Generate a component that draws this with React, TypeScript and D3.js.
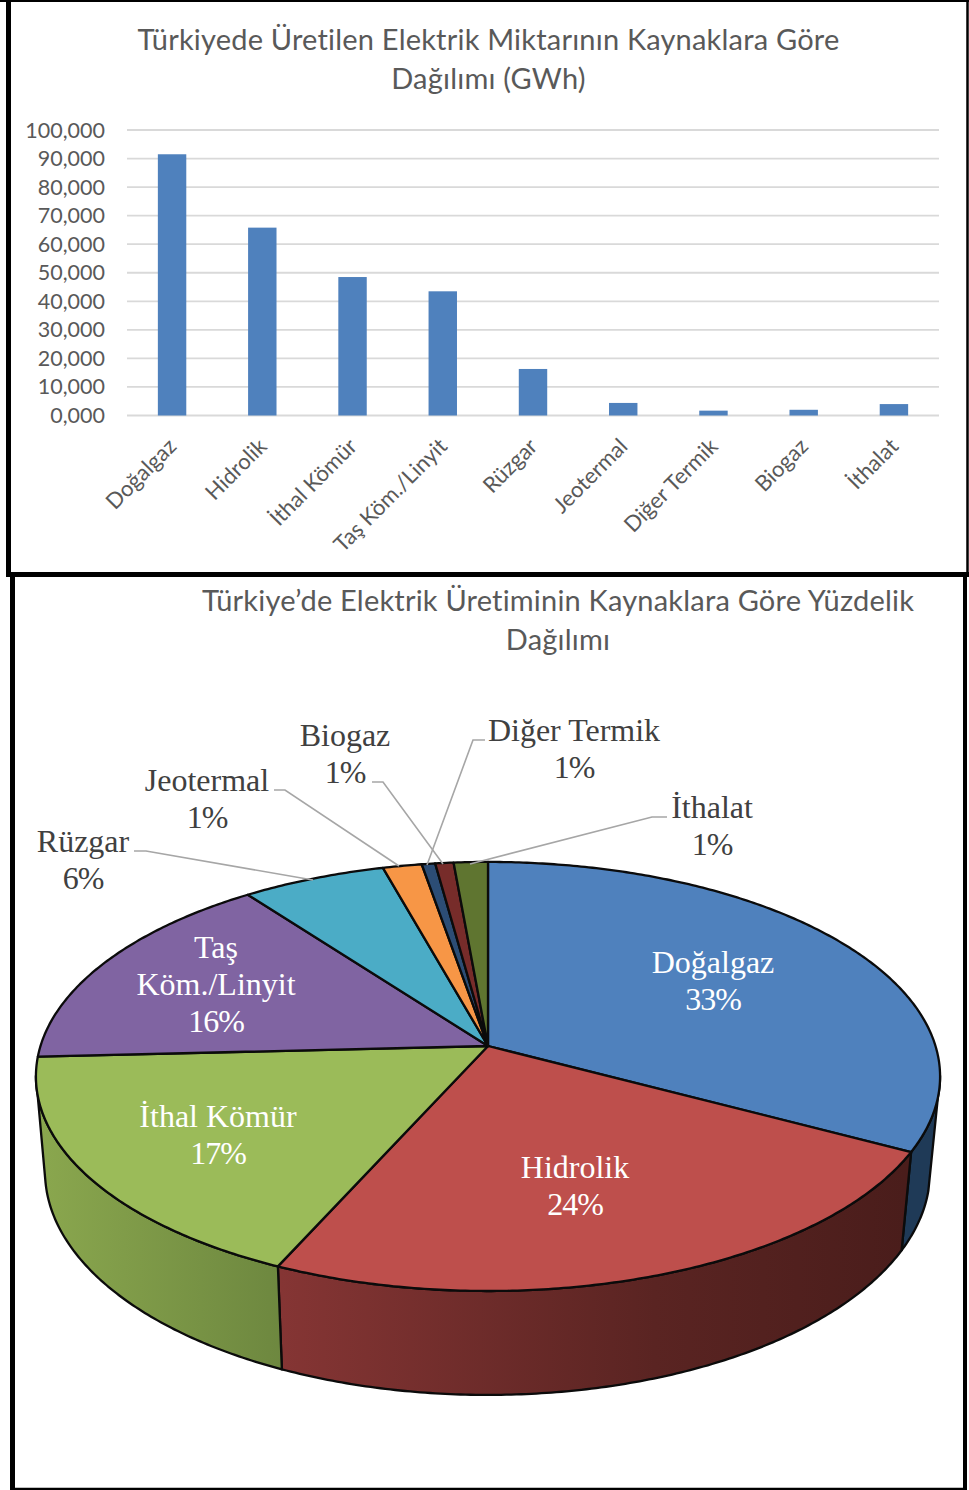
import React from "react";
import * as d3 from "d3";

const W = 969, H = 1490;
const categories = ["Doğalgaz", "Hidrolik", "İthal Kömür", "Taş Köm./Linyit", "Rüzgar", "Jeotermal", "Diğer Termik", "Biogaz", "İthalat"];
const barValues = [91500, 65800, 48500, 43500, 16300, 4400, 1700, 2000, 4000];
const yTicks = [0, 10000, 20000, 30000, 40000, 50000, 60000, 70000, 80000, 90000, 100000];
const yTickLabels = ["0,000", "10,000", "20,000", "30,000", "40,000", "50,000", "60,000", "70,000", "80,000", "90,000", "100,000"];
const pieNames = ["Doğalgaz", "Hidrolik", "İthal Kömür", "Taş Köm./Linyit", "Rüzgar", "Jeotermal", "Biogaz", "Diğer Termik", "İthalat"];
const pieShares = [32.8, 23.9, 17.5, 15.6, 5.9, 1.6, 0.55, 0.75, 1.4];
const pieColors = ["#4f81bd", "#be4f4c", "#9bbb59", "#8064a2", "#4bacc6", "#f79646", "#2c4d75", "#772c2a", "#5f7530"];
const title1 = ["Türkiyede Üretilen Elektrik Miktarının Kaynaklara Göre", "Dağılımı (GWh)"];
const title2 = ["Türkiye’de Elektrik Üretiminin Kaynaklara Göre Yüzdelik", "Dağılımı"];

const sans = "Lato, 'Open Sans', sans-serif";
const serif = "'Liberation Serif', serif";

const x = d3.scaleBand<string>().domain(categories).range([127, 939]).paddingInner(0.685).paddingOuter(0.342);
const y = d3.scaleLinear().domain([0, 100000]).range([415.5, 130]);

// perspective projection of the pie's disc
const K = -0.142;
const project = (t: number, cx: number, cy: number, bx: number, by: number): [number, number] => {
  const u = Math.sin(t), v = -Math.cos(t), w = 1 + K * v;
  return [cx + (bx * u) / w, cy + (by * v) / w];
};
const topP = (t: number) => project(t, 488, 1046, 447.5, 210.2);
const botP = (t: number) => project(t, 487.5, 1140, 438, 218.7);
const line = d3.line();
const arcPts = (a: number, b: number, f: (t: number) => [number, number]) => {
  const n = Math.max(2, Math.ceil(Math.abs(b - a) / 0.01));
  return d3.range(n + 1).map((i) => f(a + ((b - a) * i) / n));
};
const slices = d3.pie<number>().sort(null)(pieShares);
const rad = (d: number) => (d * Math.PI) / 180;

const outerLabels = [
  { lines: ["Rüzgar", "6%"], cx: 83, y: 852, leader: [[134, 851], [146, 851], [313, 880]] },
  { lines: ["Jeotermal", "1%"], cx: 207, y: 791, leader: [[274, 790], [285, 790], [399, 866]] },
  { lines: ["Biogaz", "1%"], cx: 345, y: 746, leader: [[372, 782], [383, 782], [443, 864]] },
  { lines: ["Diğer Termik", "1%"], cx: 574, y: 741, leader: [[485, 740], [473, 740], [427, 865]] },
  { lines: ["İthalat", "1%"], cx: 712, y: 818, leader: [[667, 817], [652, 817], [470, 864]] },
];
const innerLabels = [
  { lines: ["Doğalgaz", "33%"], cx: 713, y: 973 },
  { lines: ["Hidrolik", "24%"], cx: 575, y: 1178 },
  { lines: ["İthal Kömür", "17%"], cx: 218, y: 1127 },
  { lines: ["Taş", "Köm./Linyit", "16%"], cx: 216, y: 958 },
];
const spacing = (t: string) => (t.endsWith("%") ? -1 : 0);

export default function App() {
  return (
    <svg width={W} height={H} viewBox={`0 0 ${W} ${H}`} style={{ position: "absolute", left: 0, top: 0, background: "#fff" }}>
      <defs>
        <linearGradient id="gGreen" gradientUnits="userSpaceOnUse" x1={40} x2={285} y1={0} y2={0}>
          <stop offset="0" stopColor="#8aa74e" />
          <stop offset="1" stopColor="#6d873f" />
        </linearGradient>
        <linearGradient id="gRed" gradientUnits="userSpaceOnUse" x1={280} x2={905} y1={0} y2={0}>
          <stop offset="0" stopColor="#853534" />
          <stop offset="0.6" stopColor="#5a2422" />
          <stop offset="1" stopColor="#4a1d1b" />
        </linearGradient>
      </defs>

      {/* frames */}
      <g fill="none" stroke="#000">
        <line x1={0} x2={W} y1={0.7} y2={0.7} strokeWidth={2.4} />
        <line x1={8.5} x2={8.5} y1={0} y2={577} strokeWidth={5} />
        <line x1={967.5} x2={967.5} y1={0} y2={575} strokeWidth={2.5} />
        <line x1={6} x2={969} y1={574.5} y2={574.5} strokeWidth={5} />
        <line x1={12.5} x2={12.5} y1={575} y2={H} strokeWidth={5} />
        <line x1={965} x2={965} y1={575} y2={H} strokeWidth={4} />
        <line x1={10} x2={967} y1={1489} y2={1489} strokeWidth={2.4} />
      </g>

      {/* bar chart */}
      {title1.map((t, i) => (
        <text key={t} x={488.5} y={50 + i * 39} textAnchor="middle" fontFamily={sans} fontSize={29} letterSpacing={0.2} fill="#595959">{t}</text>
      ))}
      {yTicks.map((t, i) => (
        <g key={t}>
          <line x1={127} x2={939} y1={y(t)} y2={y(t)} stroke="#d9d9d9" strokeWidth={1.8} />
          <text x={105} y={y(t) + 7.5} textAnchor="end" fontFamily={sans} fontSize={21.5} fill="#595959">{yTickLabels[i]}</text>
        </g>
      ))}
      {categories.map((c, i) => (
        <rect key={c} x={x(c)} y={y(barValues[i])} width={x.bandwidth()} height={y(0) - y(barValues[i])} fill="#4f81bd" />
      ))}
      {categories.map((c) => {
        const px = x(c)! + x.bandwidth() / 2 - 1;
        return (
          <text key={c} transform={`translate(${px},441) rotate(-45)`} textAnchor="end" dominantBaseline="hanging" dy={-8} fontFamily={sans} fontSize={22} fill="#595959">{c}</text>
        );
      })}

      {/* pie chart */}
      {title2.map((t, i) => (
        <text key={t} x={558} y={611 + i * 39} textAnchor="middle" fontFamily={sans} fontSize={29} letterSpacing={0.2} fill="#595959">{t}</text>
      ))}

      {(() => {
        const dog = slices[0], hid = slices[1], ith = slices[2];
        const sides = [
          { pts: [...arcPts(rad(98), dog.endAngle, topP), ...arcPts(dog.endAngle, rad(103), botP)], fill: "#1f3a57" },
          { pts: [...arcPts(hid.startAngle, hid.endAngle, topP), ...arcPts(hid.endAngle, hid.startAngle, botP)], fill: "url(#gRed)" },
          { pts: [...arcPts(ith.startAngle, rad(262), topP), ...arcPts(rad(259), ith.startAngle, botP)], fill: "url(#gGreen)" },
        ];
        return sides.map((s, i) => (
          <path key={i} d={line(s.pts as [number, number][]) + "Z"} fill={s.fill} stroke="#0b0b0b" strokeWidth={2.3} strokeLinejoin="round" />
        ));
      })()}

      {slices.map((s, i) => (
        <path
          key={pieNames[i]}
          d={line([[488, 1046], ...arcPts(s.startAngle, s.endAngle, topP)] as [number, number][]) + "Z"}
          fill={pieColors[i]}
          stroke="#0b0b0b"
          strokeWidth={2.3}
          strokeLinejoin="round"
        />
      ))}

      {outerLabels.map((l) => (
        <g key={l.lines[0]}>
          <path d={line(l.leader as [number, number][])!} fill="none" stroke="#a6a6a6" strokeWidth={1.6} />
          {l.lines.map((t, i) => (
            <text key={t} x={l.cx} y={l.y + i * 37} textAnchor="middle" fontFamily={serif} fontSize={32} letterSpacing={spacing(t)} fill="#404040">{t}</text>
          ))}
        </g>
      ))}
      {innerLabels.map((l) => (
        <g key={l.lines[0]}>
          {l.lines.map((t, i) => (
            <text key={t} x={l.cx} y={l.y + i * 37} textAnchor="middle" fontFamily={serif} fontSize={32} letterSpacing={spacing(t)} fill="#ffffff">{t}</text>
          ))}
        </g>
      ))}
    </svg>
  );
}
